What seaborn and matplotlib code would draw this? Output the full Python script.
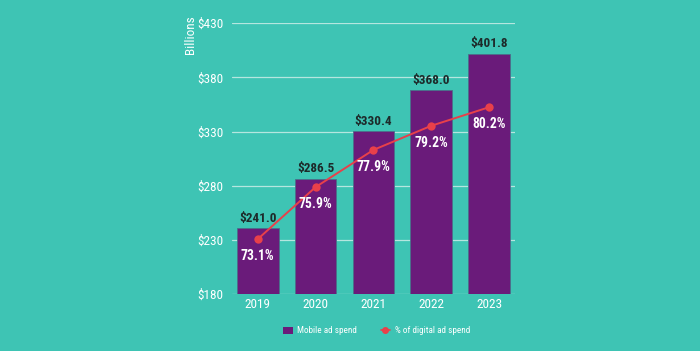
import matplotlib
matplotlib.use('Agg')
import matplotlib.pyplot as plt
import pandas as pd
import seaborn as sns
from matplotlib.lines import Line2D
from matplotlib.patches import Patch

years = ['2019', '2020', '2021', '2022', '2023']
mobile_spend = [241.0, 286.5, 330.4, 368.0, 401.8]
digital_share = [73.1, 75.9, 77.9, 79.2, 80.2]
y_ticks = [180, 230, 280, 330, 380, 430]

BG = '#3ec4b4'
PURPLE = '#6a1b7a'
RED = '#e8404a'
FONT = ['Roboto Condensed', 'DejaVu Sans']

sns.set_theme(style='white')
plt.rcParams['font.family'] = FONT

df = pd.DataFrame({'year': years, 'spend': mobile_spend, 'share': digital_share})

fig = plt.figure(figsize=(7, 3.51), dpi=100, facecolor=BG)
ax = fig.add_axes([0.331, 0.162, 0.405, 0.772])
ax.set_facecolor(BG)

# bars
sns.barplot(data=df, x='year', y='spend', color=PURPLE, width=0.72,
            saturation=1, edgecolor='#4a6f8a', linewidth=0.6, ax=ax, zorder=2)
ax.set_ylim(180, 430)
ax.set_xlim(-0.45, 4.45)
ax.set_yticks(y_ticks)
ax.set_yticklabels(['$%d' % v for v in y_ticks], color='white', fontsize=9.5)
ax.tick_params(axis='x', colors='white', labelsize=9.5, length=0, pad=3)
ax.tick_params(axis='y', length=0, pad=6)
ax.grid(axis='y', color='#b5e6df', linewidth=0.9, zorder=0)
ax.set_axisbelow(True)
for s in ax.spines.values():
    s.set_visible(False)
ax.set_xlabel('')
ax.set_ylabel('')
fig.text(0.272, 0.955, 'Billions', rotation=90, color='white', fontsize=9.5,
         ha='center', va='top', family=FONT)

for i, v in enumerate(mobile_spend):
    ax.text(i, v + 3, '$%.1f' % v, ha='center', va='bottom', fontsize=9.5,
            fontweight='bold', color='#1d2a2a', zorder=5)

# line on a hidden second axis
ax2 = ax.twinx()
ax2.set_ylim(70.14, 84.72)
sns.lineplot(x=list(range(len(years))), y=digital_share, color=RED, marker='o',
             markersize=6, markeredgewidth=0, linewidth=1.4, ax=ax2, zorder=4)
ax2.set_yticks([])
ax2.set_ylabel('')
for s in ax2.spines.values():
    s.set_visible(False)
for i, v in enumerate(digital_share):
    ax2.text(i, v - 0.55, '%.1f%%' % v, ha='center', va='top', fontsize=9.8,
             fontweight='bold', color='white', zorder=5)

handles = [Patch(facecolor=PURPLE, edgecolor='none'),
           Line2D([0], [0], color=RED, marker='o', markersize=4, linewidth=1.2)]
fig.legend(handles, ['Mobile ad spend', '% of digital ad spend'],
           loc='center', bbox_to_anchor=(0.538, 0.057), ncol=2, frameon=False,
           fontsize=6.6, labelcolor='white', handlelength=1.0, handleheight=0.9,
           columnspacing=2.6, handletextpad=0.5)

fig.savefig('out.png', dpi=100, facecolor=BG)
